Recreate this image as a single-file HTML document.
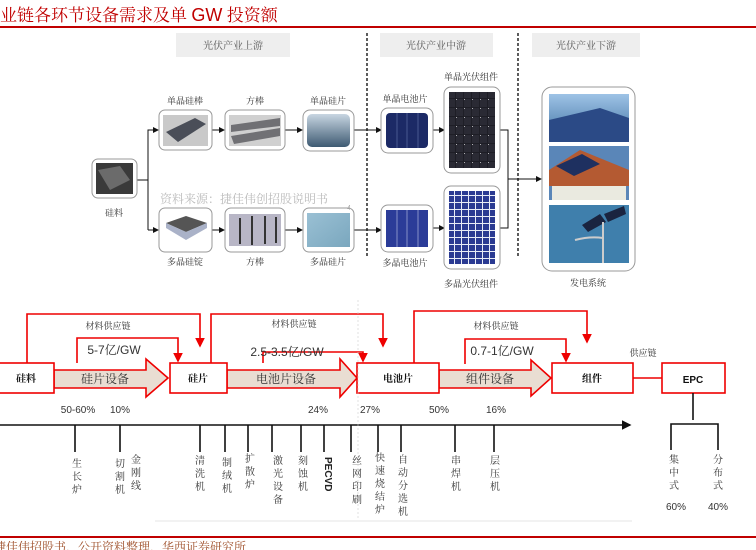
<!DOCTYPE html>
<html><head><meta charset="utf-8"><style>
html,body{margin:0;padding:0;background:#fff;width:756px;height:550px;overflow:hidden}
svg{display:block}
text{font-family:"Liberation Sans","Noto Serif CJK SC","Noto Sans CJK SC",sans-serif}
.cj{font-family:"Noto Serif CJK SC","Liberation Serif",serif}
</style></head><body>
<svg width="756" height="550" viewBox="0 0 756 550" xmlns="http://www.w3.org/2000/svg">
<defs>
<linearGradient id="gw" x1="0" y1="0" x2="0" y2="1"><stop offset="0" stop-color="#c8d6e2"/><stop offset="1" stop-color="#3e5a72"/></linearGradient>
<linearGradient id="gp" x1="0" y1="0" x2="1" y2="1"><stop offset="0" stop-color="#9ac0d4"/><stop offset="1" stop-color="#7aa7be"/></linearGradient>
<linearGradient id="gs" x1="0" y1="0" x2="0" y2="1"><stop offset="0" stop-color="#9ec3e6"/><stop offset="1" stop-color="#3d6fa0"/></linearGradient>
<marker id="ab" markerWidth="6" markerHeight="6" refX="5" refY="3" orient="auto"><path d="M0,0 L6,3 L0,6z" fill="#111"/></marker>
<marker id="ar" markerWidth="6" markerHeight="6" refX="5" refY="3" orient="auto"><path d="M0,0 L6,3 L0,6z" fill="#e00"/></marker>
<pattern id="cellm" width="8" height="9" patternUnits="userSpaceOnUse"><rect width="8" height="9" fill="#1e1e26"/><rect x="0" y="0" width="7" height="8" fill="#2a2a34"/><circle cx="0" cy="0" r="1" fill="#ddd"/></pattern>
<pattern id="cellp" width="7" height="7" patternUnits="userSpaceOnUse"><rect width="7" height="7" fill="#e8ecf6"/><rect x="0" y="0" width="6" height="6" fill="#2a3a92"/></pattern>
</defs>

<!-- title -->
<text x="0" y="21" class="cj" font-size="17" fill="#c00000" font-family="Noto Serif CJK SC,serif">业链各环节设备需求及单 <tspan font-family="Liberation Sans" font-size="18">GW</tspan> 投资额</text>
<rect x="0" y="26" width="756" height="2" fill="#c00000"/>

<!-- headers -->
<rect x="176" y="33" width="114" height="24" fill="#eeeeee"/>
<text x="233" y="49" font-size="10" text-anchor="middle" fill="#555" class="cj">光伏产业上游</text>
<rect x="380" y="33" width="113" height="24" fill="#eeeeee"/>
<text x="436" y="49" font-size="10" text-anchor="middle" fill="#555" class="cj">光伏产业中游</text>
<rect x="532" y="33" width="108" height="24" fill="#eeeeee"/>
<text x="586" y="49" font-size="10" text-anchor="middle" fill="#555" class="cj">光伏产业下游</text>

<line x1="367" y1="33" x2="367" y2="258" stroke="#333" stroke-width="1.6" stroke-dasharray="3,2"/>
<line x1="518" y1="33" x2="518" y2="258" stroke="#333" stroke-width="1.6" stroke-dasharray="3,2"/>

<!-- top flow lines -->
<g stroke="#111" stroke-width="1" fill="none">
<line x1="137" y1="180" x2="148" y2="180"/>
<polyline points="148,230 148,130 158,130" marker-end="url(#ab)"/>
<line x1="148" y1="230" x2="158" y2="230" marker-end="url(#ab)"/>
<line x1="212" y1="130" x2="224" y2="130" marker-end="url(#ab)"/>
<line x1="285" y1="130" x2="302" y2="130" marker-end="url(#ab)"/>
<line x1="212" y1="230" x2="224" y2="230" marker-end="url(#ab)"/>
<line x1="285" y1="230" x2="302" y2="230" marker-end="url(#ab)"/>
<line x1="354" y1="130" x2="381" y2="130" marker-end="url(#ab)"/>
<line x1="354" y1="230" x2="381" y2="230" marker-end="url(#ab)"/>
<line x1="433" y1="130" x2="444" y2="130" marker-end="url(#ab)"/>
<line x1="433" y1="228" x2="444" y2="228" marker-end="url(#ab)"/>
<polyline points="499,130 508,130 508,228 499,228"/>
<line x1="508" y1="179" x2="541" y2="179" marker-end="url(#ab)"/>
</g>

<!-- nodes upstream -->
<g stroke="#999" stroke-width="1" fill="#fff">
<rect x="92" y="159" width="45" height="39" rx="6"/>
<rect x="159" y="110" width="53" height="40" rx="6"/>
<rect x="225" y="110" width="60" height="40" rx="6"/>
<rect x="303" y="110" width="51" height="41" rx="7"/>
<rect x="159" y="208" width="53" height="44" rx="6"/>
<rect x="225" y="208" width="60" height="44" rx="6"/>
<rect x="303" y="208" width="51" height="44" rx="6"/>
<rect x="381" y="108" width="52" height="45" rx="7"/>
<rect x="444" y="87" width="56" height="86" rx="7"/>
<rect x="381" y="205" width="52" height="47" rx="7"/>
<rect x="444" y="186" width="56" height="83" rx="7"/>
<rect x="542" y="87" width="93" height="184" rx="10"/>
</g>
<rect x="96" y="163" width="37" height="31" fill="#3a3a3a"/>
<path d="M98,170 L120,166 L130,180 L110,190 Z" fill="#6b6b6b"/>
<rect x="163" y="115" width="45" height="31" fill="#c9c9c9"/>
<path d="M166,132 L195,118 L206,124 L178,142 Z" fill="#4a4e58"/>
<rect x="229" y="115" width="52" height="31" fill="#d0d0d0"/>
<path d="M231,125 L280,118 L280,126 L231,132 Z M231,136 L280,128 L280,136 L234,144 Z" fill="#707074"/>
<rect x="307" y="114" width="43" height="33" rx="5" fill="url(#gw)"/>
<rect x="163" y="215" width="45" height="30" fill="#fff"/>
<path d="M166,223 L186,216 L207,223 L186,232 Z" fill="#555"/>
<path d="M166,223 L186,232 L207,223 L207,228 L186,240 L166,228Z" fill="#aab2c8"/>
<rect x="229" y="214" width="52" height="32" fill="#b8b6c6"/>
<path d="M240,218 v26 M252,216 v29 M265,216 v28 M276,217 v26" stroke="#333" stroke-width="2"/>
<rect x="307" y="213" width="43" height="34" fill="url(#gp)"/>
<rect x="386" y="113" width="42" height="35" rx="4" fill="#1c2a66"/>
<path d="M397,113 v35 M407,113 v35 M418,113 v35" stroke="#8aa0d0" stroke-width="0.4"/>
<rect x="449" y="92" width="46" height="76" fill="url(#cellm)"/>
<rect x="386" y="210" width="42" height="37" fill="#2b3c98"/>
<path d="M397,210 v37 M407,210 v37 M418,210 v37" stroke="#c0c8e8" stroke-width="0.6"/>
<rect x="449" y="191" width="46" height="73" fill="url(#cellp)"/>
<rect x="549" y="94" width="80" height="48" fill="url(#gs)"/>
<path d="M549,120 L600,108 L629,118 L629,142 L549,142 Z" fill="#2b4a86"/>
<rect x="549" y="146" width="80" height="54" fill="#5a86b8"/>
<path d="M549,170 L580,150 L629,170 L629,186 L549,186 Z" fill="#b45a32"/>
<path d="M556,166 L582,154 L600,164 L574,176 Z" fill="#1e3060"/>
<rect x="552" y="186" width="74" height="14" fill="#eaeae0"/>
<rect x="549" y="205" width="80" height="58" fill="#3f7fac"/>
<path d="M582,225 L600,214 L606,222 L588,232 Z M604,214 L624,206 L626,214 L608,222 Z" fill="#1a2440"/>
<line x1="603" y1="222" x2="603" y2="263" stroke="#ccc" stroke-width="2"/>
<path d="M603,238 Q590,236 575,240" stroke="#ccc" stroke-width="2" fill="none"/>

<g class="cj" font-size="9" fill="#333" text-anchor="middle">
<text x="114" y="216">硅料</text>
<text x="185" y="104">单晶硅棒</text>
<text x="255" y="104">方棒</text>
<text x="328" y="104">单晶硅片</text>
<text x="185" y="265">多晶硅锭</text>
<text x="255" y="265">方棒</text>
<text x="328" y="265">多晶硅片</text>
<text x="405" y="102">单晶电池片</text>
<text x="471" y="80">单晶光伏组件</text>
<text x="405" y="266">多晶电池片</text>
<text x="471" y="287">多晶光伏组件</text>
<text x="588" y="286">发电系统</text>
</g>
<text x="160" y="203" class="cj" font-size="12" fill="#bbb">资料来源：捷佳伟创招股说明书</text>
<text x="347" y="210" font-size="7" fill="#aaa">4</text>

<!-- bottom red loops -->
<g stroke="#e00" stroke-width="1.6" fill="none">
<polyline points="27,363 27,314 200,314 200,346" marker-end="url(#ar)"/>
<polyline points="211,363 211,314 383,314 383,346" marker-end="url(#ar)"/>
<polyline points="414,363 414,311 587,311 587,342" marker-end="url(#ar)"/>
<polyline points="77,363 77,338 178,338 178,361" marker-end="url(#ar)"/>
<polyline points="263,363 263,352 363,352 363,361" marker-end="url(#ar)"/>
<polyline points="465,364 465,339 566,339 566,361" marker-end="url(#ar)"/>
<line x1="633" y1="378" x2="662" y2="378"/>
</g>
<!-- big arrows -->
<g fill="#e9ddd2" stroke="#e00" stroke-width="1.6">
<path d="M54,370 H146 V359 L168,378 L146,397 V388 H54 Z"/>
<path d="M227,370 H340 V359 L357,378 L340,397 V388 H227 Z"/>
<path d="M439,370 H531 V360 L551,378 L531,396 V388 H439 Z"/>
</g>
<g fill="#fff" stroke="#e00" stroke-width="1.6">
<rect x="-5" y="363" width="59" height="30"/>
<rect x="170" y="363" width="57" height="30"/>
<rect x="357" y="363" width="82" height="30"/>
<rect x="552" y="363" width="81" height="30"/>
<rect x="662" y="363" width="63" height="30"/>
</g>
<g font-size="10" font-weight="bold" fill="#111" text-anchor="middle" class="cj">
<text x="26" y="382">硅料</text>
<text x="198" y="382">硅片</text>
<text x="398" y="382">电池片</text>
<text x="592" y="382">组件</text>
<text x="693" y="383" font-family="Liberation Sans">EPC</text>
</g>
<g font-size="12" fill="#333" text-anchor="middle">
<text x="105" y="383" class="cj">硅片设备</text>
<text x="286" y="383" class="cj">电池片设备</text>
<text x="490" y="383" class="cj">组件设备</text>
<text x="114" y="354">5-7亿/GW</text>
<text x="287" y="356">2.5-3.5亿/GW</text>
<text x="502" y="355">0.7-1亿/GW</text>
</g>
<g font-size="9" fill="#333" text-anchor="middle" class="cj">
<text x="108" y="329">材料供应链</text>
<text x="294" y="327">材料供应链</text>
<text x="496" y="329">材料供应链</text>
<text x="643" y="356">供应链</text>
</g>
<g font-size="10" fill="#333" text-anchor="middle">
<text x="78" y="413">50-60%</text>
<text x="120" y="413">10%</text>
<text x="318" y="413">24%</text>
<text x="370" y="413">27%</text>
<text x="439" y="413">50%</text>
<text x="496" y="413">16%</text>
<text x="676" y="510">60%</text>
<text x="718" y="510">40%</text>
</g>

<!-- timeline -->
<line x1="0" y1="425" x2="630" y2="425" stroke="#111" stroke-width="1.6" marker-end="url(#ab)"/>
<g stroke="#111" stroke-width="1.6">
<line x1="75" y1="425" x2="75" y2="452"/><line x1="120" y1="425" x2="120" y2="452"/>
<line x1="200" y1="425" x2="200" y2="452"/><line x1="225" y1="425" x2="225" y2="452"/>
<line x1="248" y1="425" x2="248" y2="452"/><line x1="272" y1="425" x2="272" y2="452"/>
<line x1="301" y1="425" x2="301" y2="452"/><line x1="324" y1="425" x2="324" y2="452"/>
<line x1="351" y1="425" x2="351" y2="452"/><line x1="378" y1="425" x2="378" y2="452"/>
<line x1="401" y1="425" x2="401" y2="452"/><line x1="455" y1="425" x2="455" y2="452"/>
<line x1="494" y1="425" x2="494" y2="452"/>
<line x1="693" y1="393" x2="693" y2="420"/>
<polyline points="671,450 671,424 718,424 718,450" fill="none"/>
</g>
<g font-size="10" fill="#333" text-anchor="middle" class="cj">
<text x="77" y="467">生</text><text x="77" y="480">长</text><text x="77" y="493">炉</text>
<text x="120" y="467">切</text><text x="120" y="480">割</text><text x="120" y="493">机</text>
<text x="136" y="463">金</text><text x="136" y="476">刚</text><text x="136" y="489">线</text>
<text x="200" y="464">清</text><text x="200" y="477">洗</text><text x="200" y="490">机</text>
<text x="227" y="466">制</text><text x="227" y="479">绒</text><text x="227" y="492">机</text>
<text x="250" y="462">扩</text><text x="250" y="475">散</text><text x="250" y="488">炉</text>
<text x="278" y="464">激</text><text x="278" y="477">光</text><text x="278" y="490">设</text><text x="278" y="503">备</text>
<text x="303" y="464">刻</text><text x="303" y="477">蚀</text><text x="303" y="490">机</text>
<text x="357" y="464">丝</text><text x="357" y="477">网</text><text x="357" y="490">印</text><text x="357" y="503">刷</text>
<text x="380" y="461">快</text><text x="380" y="474">速</text><text x="380" y="487">烧</text><text x="380" y="500">结</text><text x="380" y="513">炉</text>
<text x="403" y="463">自</text><text x="403" y="476">动</text><text x="403" y="489">分</text><text x="403" y="502">选</text><text x="403" y="515">机</text>
<text x="456" y="464">串</text><text x="456" y="477">焊</text><text x="456" y="490">机</text>
<text x="495" y="464">层</text><text x="495" y="477">压</text><text x="495" y="490">机</text>
<text x="674" y="463">集</text><text x="674" y="476">中</text><text x="674" y="489">式</text>
<text x="718" y="463">分</text><text x="718" y="476">布</text><text x="718" y="489">式</text>
</g>
<text x="325" y="457" font-size="10" font-weight="bold" fill="#222" transform="rotate(90 325 457)">PECVD</text>
<line x1="155" y1="521" x2="632" y2="521" stroke="#e6e6e6" stroke-width="1"/>
<line x1="358" y1="300" x2="358" y2="520" stroke="#ccc" stroke-width="0.6" stroke-dasharray="2,2"/>
<rect x="0" y="536" width="756" height="2" fill="#c00000"/>
<text x="-6" y="551" font-size="12" fill="#a0522d" class="cj">捷佳伟招股书，公开资料整理，华西证券研究所</text>
</svg>
</body></html>
